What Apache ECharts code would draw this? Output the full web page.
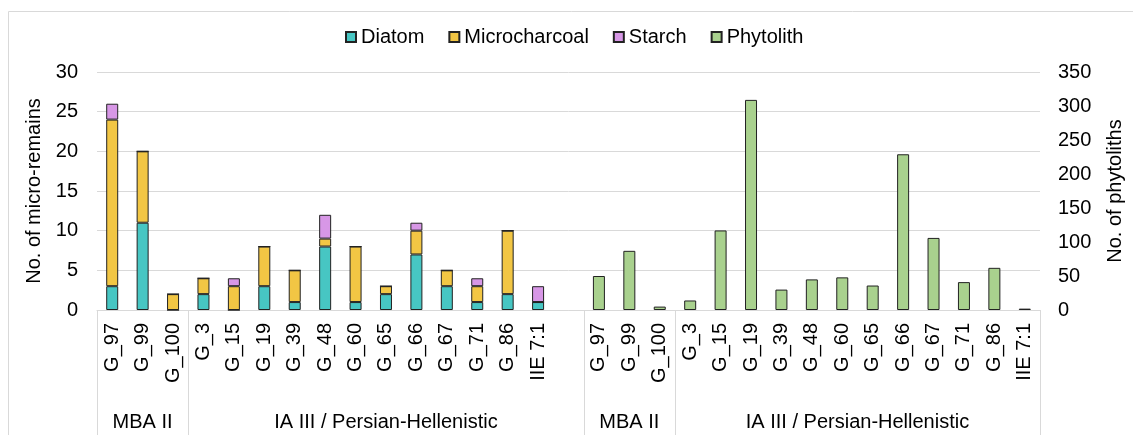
<!DOCTYPE html>
<html><head><meta charset="utf-8">
<script src="https://cdn.jsdelivr.net/npm/echarts@6/dist/echarts.min.js"></script>
<style>html,body{margin:0;padding:0;background:#fff}#c{width:1133px;height:435px}</style>
</head><body><div id="c"></div>
<script>
// ---- data ----
const samples = ['G_97','G_99','G_100','G_3','G_15','G_19','G_39','G_48','G_60','G_65','G_66','G_67','G_71','G_86','IIE 7:1'];
const groupNames = ['MBA II', 'IA III / Persian-Hellenistic'];
const groupSizes = [3, 12];
const diatom        = [3, 11, 0, 2, 0, 3, 1, 8, 1, 2, 7, 3, 1, 2, 1];
const microcharcoal = [21, 9, 2, 2, 3, 5, 4, 1, 7, 1, 3, 2, 2, 8, 0];
const starch        = [2, 0, 0, 0, 1, 0, 0, 3, 0, 0, 1, 0, 1, 0, 2];
const phytolith     = [50, 87, 5, 14, 117, 309, 30, 45, 48, 36, 229, 106, 41, 62, 2];
const leftAxisRange  = [0, 30, 5];
const rightAxisRange = [0, 350, 50];

// ---- build ----
const FONT = 'Liberation Sans, Arial, sans-serif';
const gapSlots = 1;
const categories = samples.concat(new Array(gapSlots).fill(''), samples);
const blank = new Array(samples.length + gapSlots).fill(null);
const leftPart = arr => arr.concat(blank);
const rightPart = arr => blank.concat(arr);

const BORDER = '#222222';
function barSeries(name, data, color, axis) {
  return {
    name, type: 'bar', stack: axis === 0 ? 'micro' : undefined,
    yAxisIndex: axis, data, barWidth: 12, barGap: '-100%',
    itemStyle: { color, borderColor: BORDER, borderWidth: 1 },
    emphasis: { disabled: true }, animation: false
  };
}

const option = {
  animation: false,
  textStyle: { fontFamily: FONT },
  legend: {
    left: 340, top: 22, itemWidth: 10, itemHeight: 10, itemGap: 24, icon: 'rect',
    textStyle: { fontSize: 20, color: '#000', fontFamily: FONT },
    data: ['Diatom', 'Microcharcoal', 'Starch', 'Phytolith']
  },
  grid: { left: 97, right: 92, top: 72, bottom: 125, containLabel: false },
  xAxis: {
    type: 'category', data: categories,
    axisLine: { lineStyle: { color: '#d9d9d9', width: 1 } },
    axisTick: { show: false },
    axisLabel: { interval: 0, rotate: 90, margin: 13, fontSize: 20, color: '#000', fontFamily: FONT }
  },
  yAxis: [
    {
      type: 'value', min: leftAxisRange[0], max: leftAxisRange[1], interval: leftAxisRange[2],
      name: 'No. of micro-remains', nameLocation: 'middle', nameGap: 40, nameRotate: 90,
      nameTextStyle: { fontSize: 20, color: '#000', fontFamily: FONT },
      axisLine: { show: false }, axisTick: { show: false },
      axisLabel: { margin: 19, fontSize: 20, color: '#000', fontFamily: FONT },
      splitLine: { lineStyle: { color: '#d9d9d9', width: 1 } }
    },
    {
      type: 'value', min: rightAxisRange[0], max: rightAxisRange[1], interval: rightAxisRange[2],
      position: 'right',
      name: 'No. of phytoliths', nameLocation: 'middle', nameGap: 65, nameRotate: 90,
      nameTextStyle: { fontSize: 20, color: '#000', fontFamily: FONT },
      axisLine: { show: false }, axisTick: { show: false },
      axisLabel: { margin: 18, fontSize: 20, color: '#000', fontFamily: FONT },
      splitLine: { show: false }
    }
  ],
  series: [
    barSeries('Diatom', leftPart(diatom), '#47c6c3', 0),
    barSeries('Microcharcoal', leftPart(microcharcoal), '#f2c644', 0),
    barSeries('Starch', leftPart(starch), '#d797e6', 0),
    barSeries('Phytolith', rightPart(phytolith), '#a9d18e', 1)
  ]
};

const chart = echarts.init(document.getElementById('c'), null, { renderer: 'canvas' });
chart.setOption(option);

// group labels and separators below the axis
const xOf = i => chart.convertToPixel({ xAxisIndex: 0 }, i);
const slot = xOf(1) - xOf(0);
const y0 = chart.convertToPixel({ yAxisIndex: 0 }, 0);
const H = chart.getHeight();
const panelStarts = [0, samples.length + gapSlots];
const graphics = [{
  type: 'rect', silent: true, z: -1,
  shape: { x: 8.5, y: 11.5, width: 3000, height: 3000 },
  style: { fill: 'none', stroke: '#d9d9d9', lineWidth: 1 }
}];
const bounds = [];
panelStarts.forEach((start, p) => {
  let s = start;
  groupSizes.forEach((n, g) => {
    let span = n;
    if (p === 0 && g === groupSizes.length - 1) span += gapSlots;
    const xa = xOf(s) - slot / 2, xb = xOf(s + span - 1) + slot / 2;
    bounds.push(xa, xb);
    graphics.push({
      type: 'text', silent: true,
      style: { text: groupNames[g], x: (xa + xb) / 2, y: 422, align: 'center', verticalAlign: 'middle',
               font: '20px ' + FONT, fill: '#000' }
    });
    s += span;
  });
});
[...new Set(bounds.map(b => Math.round(b)))].forEach(x => {
  graphics.push({
    type: 'line', silent: true,
    shape: { x1: x + 0.5, y1: y0, x2: x + 0.5, y2: H },
    style: { stroke: '#d9d9d9', lineWidth: 1 }
  });
});
chart.setOption({ graphic: graphics });
</script>
</body></html>
